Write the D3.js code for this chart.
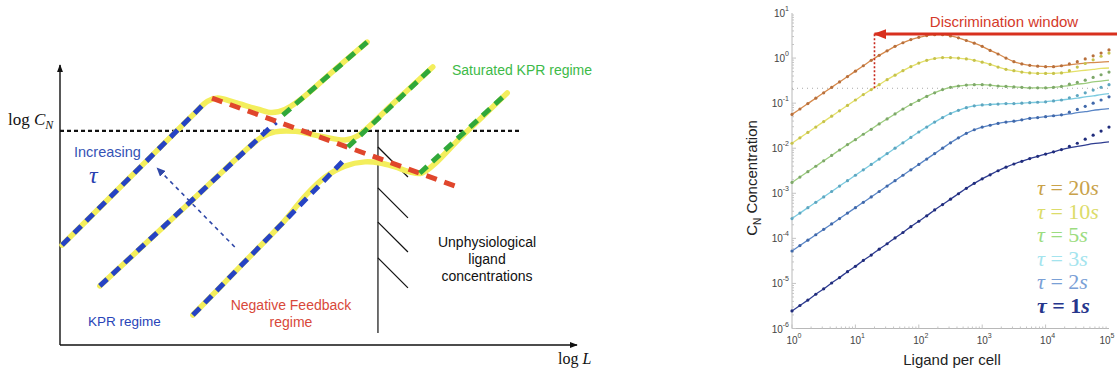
<!DOCTYPE html>
<html><head><meta charset="utf-8">
<script src="https://cdn.jsdelivr.net/npm/d3@7"></script>
<style>body{margin:0;background:#fff;} svg{display:block;}</style>
</head><body>
<svg id="c" width="1117" height="374"></svg>
<script>
// ================= RIGHT PANEL DATA =================
// ligand per cell, as log10 exponents
const ligandExp = [0,0.125,0.25,0.375,0.5,0.625,0.75,0.875,1,1.125,1.25,1.375,1.5,1.625,1.75,1.875,2,2.125,2.25,2.375,2.5,2.625,2.75,2.875,3,3.125,3.25,3.375,3.5,3.625,3.75,3.875,4,4.125,4.25,4.375,4.5,4.625,4.75,4.875,5];
// C_N concentration (log10) – model curves
const tau20 = [-1.25,-1.13,-1.01,-0.89,-0.77,-0.65,-0.53,-0.41,-0.29,-0.17,-0.05,0.06,0.16,0.26,0.34,0.41,0.46,0.50,0.52,0.52,0.49,0.45,0.39,0.33,0.26,0.17,0.09,0.00,-0.08,-0.13,-0.16,-0.18,-0.19,-0.19,-0.17,-0.15,-0.13,-0.11,-0.10,-0.09,-0.08];
const tau10 = [-1.89,-1.77,-1.65,-1.53,-1.41,-1.29,-1.17,-1.05,-0.93,-0.81,-0.70,-0.59,-0.48,-0.38,-0.28,-0.19,-0.11,-0.05,-0.01,0.01,0.01,0.00,-0.02,-0.05,-0.09,-0.14,-0.20,-0.25,-0.28,-0.31,-0.33,-0.34,-0.34,-0.34,-0.33,-0.31,-0.29,-0.27,-0.25,-0.23,-0.22];
const tau5  = [-2.76,-2.64,-2.52,-2.40,-2.28,-2.16,-2.04,-1.92,-1.81,-1.69,-1.58,-1.46,-1.35,-1.24,-1.13,-1.03,-0.94,-0.85,-0.77,-0.70,-0.65,-0.62,-0.60,-0.59,-0.59,-0.60,-0.62,-0.63,-0.64,-0.65,-0.66,-0.66,-0.66,-0.65,-0.63,-0.61,-0.58,-0.56,-0.53,-0.51,-0.49];
const tau3  = [-3.56,-3.44,-3.32,-3.20,-3.08,-2.96,-2.84,-2.72,-2.60,-2.48,-2.36,-2.24,-2.12,-2.00,-1.88,-1.76,-1.64,-1.53,-1.42,-1.32,-1.23,-1.16,-1.10,-1.06,-1.04,-1.03,-1.02,-1.01,-1.01,-1.00,-0.99,-0.98,-0.97,-0.95,-0.93,-0.91,-0.89,-0.86,-0.84,-0.81,-0.79];
const tau2  = [-4.28,-4.16,-4.04,-3.92,-3.80,-3.68,-3.56,-3.44,-3.32,-3.20,-3.08,-2.96,-2.84,-2.72,-2.60,-2.48,-2.36,-2.24,-2.12,-2.00,-1.88,-1.77,-1.67,-1.59,-1.53,-1.49,-1.45,-1.42,-1.40,-1.37,-1.34,-1.32,-1.30,-1.28,-1.26,-1.24,-1.21,-1.19,-1.16,-1.14,-1.12];
const tau1  = [-5.61,-5.49,-5.37,-5.24,-5.12,-4.99,-4.87,-4.74,-4.62,-4.49,-4.37,-4.24,-4.12,-3.99,-3.87,-3.74,-3.62,-3.50,-3.37,-3.25,-3.13,-3.01,-2.89,-2.78,-2.68,-2.59,-2.50,-2.42,-2.35,-2.29,-2.23,-2.18,-2.13,-2.08,-2.03,-1.99,-1.96,-1.93,-1.90,-1.88,-1.86];
// simulation points (log10) at high ligand where they leave the curves (ligand exponents 4.375 .. 5)
const tailExp = [4.375,4.5,4.625,4.75,4.875,5];
const tau20Sim = [-0.13,-0.08,-0.02,0.05,0.11,0.18];
const tau10Sim = [-0.28,-0.20,-0.12,-0.04,0.04,0.11];
const tau5Sim  = [-0.58,-0.54,-0.49,-0.43,-0.37,-0.31];
const tau3Sim  = [-0.88,-0.83,-0.77,-0.71,-0.65,-0.59];
const tau2Sim  = [-1.20,-1.14,-1.07,-1.00,-0.93,-0.86];
const tau1Sim  = [-1.96,-1.89,-1.80,-1.71,-1.62,-1.53];
const tauNames = ["20","10","5","3","2","1"];
const yTickExp = [-6,-5,-4,-3,-2,-1,0,1];
const xTickExp = [0,1,2,3,4,5];
const thresholdC = 0.214;       // dotted threshold level
const windowL = 20;             // start of discrimination window
const windowArrowC = 3.4;       // level of arrow

// ================= LEFT PANEL (schematic) DATA =================
const curveHigh = [[0.04,3.57],[1.4,6.07],[2.6,8.27],[2.85,8.70],[3.05,8.82],[3.38,8.66],[3.83,8.42],[4.10,8.30],[4.35,8.41],[4.64,8.75],[5.3,9.81],[5.94,10.82]];
const curveMid  = [[0.77,2.11],[2.5,5.07],[3.68,7.10],[3.91,7.43],[4.16,7.61],[4.55,7.63],[5.03,7.46],[5.51,7.32],[5.74,7.45],[6.4,8.55],[7.21,9.93]];
const curveLow  = [[2.57,1.07],[3.6,3.02],[4.35,4.45],[4.74,5.32],[5.13,6.0],[5.51,6.39],[5.90,6.54],[6.19,6.50],[6.48,6.36],[6.77,6.18],[7.0,6.14],[7.8,7.5],[8.65,9.0]];
const kprHigh = [[0.04,3.57],[2.80,8.64]];
const kprMid  = [[0.77,2.11],[4.18,7.96]];
const kprLow  = [[2.57,1.07],[5.55,6.71]];
const satHigh = [[4.31,8.21],[5.94,10.82]];
const satMid  = [[5.57,7.07],[7.21,9.93]];
const satLow  = [[6.96,6.14],[8.65,9.0]];
const negFeedback = [[2.94,8.82],[7.64,5.68]];
const thresholdLine = [[0,7.65],[8.9,7.65]];
const physLimit = [[6.15,7.65],[6.15,0.43]];
const hatches = [[[6.15,7.07],[6.73,6.0]],[[6.15,5.61],[6.73,4.54]],[[6.15,4.39],[6.73,3.32]],[[6.15,3.11],[6.73,2.04]]];
const tauArrow = [[3.38,3.5],[1.88,6.32]];

// ================= DRAW =================
const svg = d3.select('#c');
const defs = svg.append('defs');
function marker(id, color, w, h){
  defs.append('marker').attr('id',id).attr('viewBox','0 0 10 10').attr('refX',9).attr('refY',5)
    .attr('markerUnits','userSpaceOnUse').attr('markerWidth',w).attr('markerHeight',h)
    .attr('orient','auto').attr('preserveAspectRatio','none')
    .append('path').attr('d','M0,0L10,5L0,10z').attr('fill',color);
}
marker('axArr','#111',8,6);
marker('blueArr','#3048a8',9,8);
marker('redArr','#d8301e',13,10);

// ---------- left panel ----------
const xL = d3.scaleLinear().domain([0,10]).range([60,577]);
const yL = d3.scaleLinear().domain([0,10]).range([345,65]);
const lineL = d3.line().x(d=>xL(d[0])).y(d=>yL(d[1]));
const curveL = d3.line().x(d=>xL(d[0])).y(d=>yL(d[1])).curve(d3.curveCatmullRom.alpha(0.5));
const L = svg.append('g');

// axes
L.append('line').attr('x1',xL(0)).attr('y1',yL(0)).attr('x2',xL(0)).attr('y2',yL(10))
  .attr('stroke','#111').attr('stroke-width',1.4).attr('marker-end','url(#axArr)');
L.append('line').attr('x1',xL(0)).attr('y1',yL(0)).attr('x2',xL(10)).attr('y2',yL(0))
  .attr('stroke','#111').attr('stroke-width',1.4).attr('marker-end','url(#axArr)');

// threshold & physiological limit
L.append('path').attr('d',lineL(thresholdLine)).attr('stroke','#111').attr('stroke-width',2.2)
  .attr('stroke-dasharray','4,3').attr('fill','none');
L.append('path').attr('d',lineL(physLimit)).attr('stroke','#111').attr('stroke-width',1.2).attr('fill','none');
hatches.forEach(h=>L.append('path').attr('d',lineL(h)).attr('stroke','#111').attr('stroke-width',1.2).attr('fill','none'));

// yellow response curves
[curveHigh,curveMid,curveLow].forEach(c=>L.append('path').attr('d',curveL(c))
  .attr('stroke','#f3ee5c').attr('stroke-width',5.5).attr('fill','none').attr('stroke-linecap','round'));
// dashed regime asymptotes
[kprHigh,kprMid,kprLow].forEach(c=>L.append('path').attr('d',lineL(c))
  .attr('stroke','#2643c4').attr('stroke-width',5).attr('stroke-dasharray','10,7').attr('fill','none'));
L.append('path').attr('d',lineL(negFeedback)).attr('stroke','#e0462c').attr('stroke-width',5)
  .attr('stroke-dasharray','11,8').attr('fill','none');
[satHigh,satMid,satLow].forEach(c=>L.append('path').attr('d',lineL(c))
  .attr('stroke','#30a83a').attr('stroke-width',5).attr('stroke-dasharray','10,7').attr('fill','none'));

// increasing tau arrow
L.append('path').attr('d',lineL(tauArrow)).attr('stroke','#3048a8').attr('stroke-width',1.6)
  .attr('stroke-dasharray','4,4').attr('fill','none').attr('marker-end','url(#blueArr)');

// texts (left)
const sans = "'Liberation Sans', Arial, sans-serif";
const serif = "'Liberation Serif', 'DejaVu Serif', serif";
const t1 = L.append('text').attr('x',8).attr('y',125).attr('font-family',serif).attr('font-size',17).attr('fill','#111');
t1.append('tspan').text('log ');
t1.append('tspan').attr('font-style','italic').text('C');
t1.append('tspan').attr('font-style','italic').attr('font-size',12).attr('dy',4).text('N');
const t2 = L.append('text').attr('x',558).attr('y',364).attr('font-family',serif).attr('font-size',16).attr('fill','#111');
t2.append('tspan').text('log ');
t2.append('tspan').attr('font-style','italic').text('L');

L.append('text').attr('x',74).attr('y',157).attr('font-family',sans).attr('font-size',14.5).attr('fill','#3553b5').text('Increasing');
L.append('text').attr('x',89).attr('y',183).attr('font-family',serif).attr('font-style','italic').attr('font-size',24).attr('fill','#2a40b0').text('τ');
L.append('text').attr('x',88).attr('y',326).attr('font-family',sans).attr('font-size',13.5).attr('fill','#2844b8').text('KPR regime');
L.append('text').attr('x',291).attr('y',310).attr('text-anchor','middle').attr('font-family',sans).attr('font-size',14).attr('fill','#d8483a').text('Negative Feedback');
L.append('text').attr('x',291).attr('y',327).attr('text-anchor','middle').attr('font-family',sans).attr('font-size',14).attr('fill','#d8483a').text('regime');
L.append('text').attr('x',452).attr('y',75).attr('font-family',sans).attr('font-size',14).attr('fill','#3dba48').text('Saturated KPR regime');
['Unphysiological','ligand','concentrations'].forEach((s,i)=>
  L.append('text').attr('x',487).attr('y',247+i*17).attr('text-anchor','middle').attr('font-family',sans).attr('font-size',14).attr('fill','#111').text(s));

// ---------- right panel ----------
const xR = d3.scaleLog().domain([1,1e5]).range([792,1109]);
const yR = d3.scaleLog().domain([1e-6,10]).range([328.5,13]);
const R = svg.append('g');
const lineR = d3.line().x(d=>xR(d[0])).y(d=>yR(d[1])).curve(d3.curveCatmullRom.alpha(0.5));

// axis lines
R.append('line').attr('x1',xR(1)).attr('x2',xR(1)).attr('y1',yR(1e-6)).attr('y2',yR(10)).attr('stroke','#b8b8b8').attr('stroke-width',1);
R.append('line').attr('x1',xR(1)).attr('x2',xR(1e5)).attr('y1',yR(1e-6)).attr('y2',yR(1e-6)).attr('stroke','#b8b8b8').attr('stroke-width',1);
// ticks
for (let e=-6;e<1;e++){ for(let k=1;k<10;k++){ const v=k*Math.pow(10,e); const len=k===1?4:2;
  R.append('line').attr('x1',xR(1)).attr('x2',xR(1)+len).attr('y1',yR(v)).attr('y2',yR(v)).attr('stroke','#c4c4c4');}}
for (let e=0;e<5;e++){ for(let k=1;k<10;k++){ const v=k*Math.pow(10,e); const len=k===1?4:2;
  R.append('line').attr('x1',xR(v)).attr('x2',xR(v)).attr('y1',yR(1e-6)).attr('y2',yR(1e-6)-len).attr('stroke','#c4c4c4');}}
// tick labels
yTickExp.forEach(e=>{
  const t=R.append('text').attr('x',789).attr('y',yR(Math.pow(10,e))+4).attr('text-anchor','end')
    .attr('font-family',sans).attr('font-size',10).attr('fill','#444');
  t.append('tspan').text('10');
  t.append('tspan').attr('font-size',7).attr('dy',-6).text(String(e));
});
xTickExp.forEach(e=>{
  const t=R.append('text').attr('x',Math.min(xR(Math.pow(10,e))+2, 1107)).attr('y',344).attr('text-anchor','middle')
    .attr('font-family',sans).attr('font-size',10).attr('fill','#444');
  t.append('tspan').text('10');
  t.append('tspan').attr('font-size',7).attr('dy',-6).text(String(e));
});

// threshold dotted line
R.append('line').attr('x1',xR(1)).attr('x2',xR(1e5)).attr('y1',yR(thresholdC)).attr('y2',yR(thresholdC))
  .attr('stroke','#a8a8a8').attr('stroke-width',1).attr('stroke-dasharray','1,4');

const series = [
  {name:'20', vals:tau20, sim:tau20Sim, line:'#d68a4c', dot:'#b8703c', lab:'#c9a24a', bold:false},
  {name:'10', vals:tau10, sim:tau10Sim, line:'#e4e06a', dot:'#c6c24c', lab:'#dcdc6a', bold:false},
  {name:'5',  vals:tau5,  sim:tau5Sim,  line:'#9ccc7e', dot:'#7ea86a', lab:'#9cdc80', bold:false},
  {name:'3',  vals:tau3,  sim:tau3Sim,  line:'#7ccbe0', dot:'#5ea6c0', lab:'#a4e4ee', bold:false},
  {name:'2',  vals:tau2,  sim:tau2Sim,  line:'#5a86c6', dot:'#4068aa', lab:'#7aa0d6', bold:false},
  {name:'1',  vals:tau1,  sim:tau1Sim,  line:'#2e3c90', dot:'#202c7c', lab:'#26368c', bold:true}
];
series.forEach(s=>{
  const pts = ligandExp.map((e,i)=>[Math.pow(10,e), Math.pow(10,s.vals[i])]);
  R.append('path').attr('d',lineR(pts)).attr('stroke',s.line).attr('stroke-width',1.3).attr('fill','none');
  const sim = ligandExp.map((e,i)=>{
    const j = tailExp.indexOf(e);
    return [Math.pow(10,e), Math.pow(10, j>=0 ? s.sim[j] : s.vals[i])];
  });
  R.selectAll(null).data(sim).enter().append('circle')
    .attr('cx',d=>xR(d[0])).attr('cy',d=>yR(d[1])).attr('r',1.6).attr('fill',s.dot);
});

// discrimination window annotation
R.append('line').attr('x1',xR(windowL)).attr('x2',xR(windowL)).attr('y1',yR(thresholdC)).attr('y2',yR(windowArrowC))
  .attr('stroke','#c8281c').attr('stroke-width',1.6).attr('stroke-dasharray','2,2');
R.append('line').attr('x1',1117).attr('x2',xR(windowL)).attr('y1',yR(windowArrowC)).attr('y2',yR(windowArrowC))
  .attr('stroke','#d8301e').attr('stroke-width',3).attr('marker-end','url(#redArr)');
R.append('text').attr('x',1004).attr('y',27).attr('text-anchor','middle').attr('font-family',sans)
  .attr('font-size',15).attr('fill','#d43a2a').text('Discrimination window');

// tau legend labels
series.forEach((s,i)=>{
  const t = R.append('text').attr('x',1037).attr('y',195+i*23.5).attr('font-family',serif)
    .attr('font-size',22).attr('fill',s.lab).attr('font-weight',s.bold?'bold':'normal');
  t.append('tspan').attr('font-style','italic').text('τ');
  t.append('tspan').text(' = '+s.name);
  t.append('tspan').attr('font-style','italic').text('s');
});

// axis titles
const yl = R.append('text').attr('transform','translate(757,178) rotate(-90)').attr('text-anchor','middle')
  .attr('font-family',sans).attr('font-size',15).attr('fill','#222');
yl.append('tspan').text('C');
yl.append('tspan').attr('font-size',10).attr('dy',4).text('N');
yl.append('tspan').attr('dy',-4).text(' Concentration');
R.append('text').attr('x',952).attr('y',365).attr('text-anchor','middle').attr('font-family',sans)
  .attr('font-size',15).attr('fill','#222').text('Ligand per cell');
</script>
</body></html>
